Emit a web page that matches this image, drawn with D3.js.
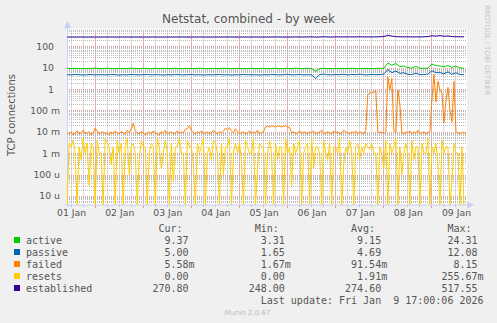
<!DOCTYPE html>
<html><head><meta charset="utf-8">
<script src="https://cdn.jsdelivr.net/npm/d3@7"></script>
<style>
html,body{margin:0;padding:0;background:#f0f0f0;}
svg{display:block;}
text{font-family:"DejaVu Sans",sans-serif;fill:#555;}
.mono{font-family:"DejaVu Sans Mono",monospace;white-space:pre;}
</style></head>
<body>
<svg id="c" width="497" height="323"></svg>
<script>
// ---------- data ----------
const title = "Netstat, combined - by week";
const yLabel = "TCP connections";
const dayLabels = ["01 Jan","02 Jan","03 Jan","04 Jan","05 Jan","06 Jan","07 Jan","08 Jan","09 Jan"];
const yTickValues = [100, 10, 1, 0.1, 0.01, 0.001, 0.0001, 0.00001];
const yTickLabels = ["100","10","1","100 m","10 m","1 m","100 u","10 u"];
const seriesNames = ["active","passive","failed","resets","established"];
const seriesColors = ["#00cc00","#0066b3","#ff8000","#ffcc00","#330099"];
const legendHeaders = ["Cur:","Min:","Avg:","Max:"];
const legendCur = ["9.37","5.00","5.58m","0.00","270.80"];
const legendMin = ["3.31","1.65","1.67m","0.00","248.00"];
const legendAvg = ["9.15","4.69","91.54m","1.91m","274.60"];
const legendMax = ["24.31","12.08","8.15","255.67m","517.55"];
const lastUpdate = "Last update: Fri Jan  9 17:00:06 2026";
const version = "Munin 2.0.67";
const sideText = "RRDTOOL / TOBI OETIKER";

// 2-hourly samples starting Jan 1 10:00
const active = [
9.3,9.1,9.4,9.2,9.0,9.3,9.2,9.5,9.1,9.2,
9.4,9.2,9.0,9.3,9.1,9.2,9.5,9.2,9.1,9.3,
9.2,9.0,9.4,9.2,9.3,9.1,9.2,9.4,9.0,9.2,
9.3,9.1,9.2,9.5,9.2,9.0,9.3,9.2,9.1,9.4,
9.2,9.1,9.3,9.2,9.0,9.2,9.4,9.1,9.2,9.3,
9.1,9.2,9.4,9.0,9.2,9.3,9.1,9.5,9.2,9.0,
9.3,9.1,6.6,9.2,9.4,9.1,9.2,9.0,9.3,9.2,
9.1,9.4,9.2,9.0,9.3,9.2,9.1,9.2,9.4,9.3,
16.5,13.0,15.5,11.2,12.0,10.0,9.6,11.5,9.4,9.3,
9.5,14.8,12.5,12.0,11.0,12.6,10.2,11.8,9.6,9.4];
const passive = [
4.7,4.6,4.8,4.7,4.5,4.7,4.8,4.6,4.7,4.7,
4.6,4.8,4.7,4.5,4.7,4.6,4.8,4.7,4.6,4.7,
4.8,4.6,4.7,4.7,4.5,4.7,4.6,4.8,4.7,4.6,
4.7,4.8,4.6,4.7,4.5,4.7,4.6,4.7,4.8,4.6,
4.7,4.5,4.7,4.6,4.8,4.7,4.6,4.7,4.5,4.7,
4.6,4.8,4.7,4.6,4.7,4.9,4.6,4.7,4.8,4.6,
4.7,4.6,3.1,4.8,5.0,4.7,4.6,4.8,4.7,4.9,
4.6,4.8,4.7,5.0,4.7,4.6,4.9,4.7,4.8,5.0,
8.2,5.8,7.0,5.4,5.8,4.9,4.8,5.6,4.7,4.8,
5.0,7.2,5.8,5.9,5.2,6.4,4.9,5.8,4.8,4.7];
const established = [
270,271,270,272,270,269,271,270,270,272,
270,271,270,270,273,270,269,270,271,270,
270,272,270,269,270,271,270,270,272,270,
270,271,270,273,270,269,270,271,270,270,
272,270,270,271,270,269,270,272,270,270,
271,270,274,271,269,272,270,275,272,270,
273,276,268,272,278,273,271,276,274,272,
277,273,275,279,274,276,272,275,280,286,
330,300,282,278,275,279,274,276,273,278,
285,310,300,318,296,305,284,280,278,276];
// hourly samples (milli units) starting Jan 1 10:00
const failedMilli = [
9,8,10,7,9,11,8,9,12,8, 9,10,7,9,15,11,8,9,10,8,
9,7,10,8,11,9,8,10,9,8, 12,9,14,25,11,9,8,10,9,7,
9,10,8,11,9,8,7,10,9,12, 8,9,10,8,9,11,8,10,9,13,
14,20,12,9,8,10,9,11,8,9, 10,8,9,12,9,8,10,9,11,15,
12,16,11,9,14,10,8,9,10,8, 9,11,8,10,9,12,8,9,10,17,
18,17,19,18,17,19,18,17,18,20, 17,16,9,10,8,9,11,8,10,9,
8,10,9,11,8,9,10,12,8,9, 10,9,8,11,9,10,8,9,12,10,
9,8,10,9,11,8,10,9,8,12, 550,650,700,720,820,10,9,10,8,10,
3800,900,3200,12,9,900,200,9,8,10, 9,11,8,10,9,12,8,9,10,8,
9,10,300,5000,250,2300,900,650,26,300, 1200,100,30,2300,10,9,8,10,9,8];
const resetsMilli = [
0,3,2,4,1,0,2,0.5,5,1, 3,0.03,3,2,0,4,1,1,0,5,
3,2,0.3,2,0,4,1,3,0,2, 5,0.1,2,3,1,0,0.5,4,2,2,
0,1,3,2,0,5,2,0.2,1,4, 1,0,3,0.05,2,2,5,1,1,0,
4,2,2,0.3,0,3,1,2,5,0, 1,2,0.5,4,3,1,0,3,0.1,2,
2,5,0,1,3,1,3,0.4,0,4, 2,1,1,5,0,0.2,3,2,2,0,
1,4,1,0,3,0.5,2,2,0,5, 1,2,0.03,3,1,2,4,0,1,2,
3,0,5,0.2,2,2,1,0,4,1, 0.5,3,0,2,2,1,5,0,0.3,2,
1,4,1,0,2,3,0.5,2,1,3, 2,1.5,3,1,1,0,2,1,0.2,4,
0,3,1,2,5,0,2,0.1,1,3, 1,0,4,0.5,2,2,0,3,1,1,
5,0,2,1,3,0.3,0,4,1,2, 2,0,0.05,3,1,1,0,2,0,0];

// ---------- layout ----------
const svg = d3.select("#c");
const L = 67, R = 467, T = 29.5, B = 204.5;
const tStart = Date.UTC(2026,0,1,10), tEnd = Date.UTC(2026,0,9,17);
const HOUR = 3600e3;
const x = d3.scaleUtc().domain([tStart, tEnd]).range([67.1, 466]);
const y = d3.scaleLog().domain([4e-6, 610]).range([B, T]);

svg.append("rect").attr("width",497).attr("height",323).attr("fill","#f0f0f0");
svg.append("rect").attr("x",L).attr("y",T).attr("width",R-L).attr("height",B-T).attr("fill","#ffffff");

const grid = svg.append("g").attr("shape-rendering","crispEdges");
const minorCol = "#bdbdbd", majorCol = "#e69a9a";
// vertical minor every 6h, major at midnight (solid, light = dotted average)
const sixH = d3.utcHour.every(6).range(new Date(tStart), new Date(tEnd+1));
sixH.forEach(d => {
  const px = Math.floor(x(d)) + 0.5;
  const major = d.getUTCHours() === 0;
  grid.append("line").attr("x1",px).attr("x2",px).attr("y1",30).attr("y2",204)
    .attr("stroke", major ? "#eeaaaa" : "#dadada");
  grid.append("line").attr("x1",px).attr("x2",px).attr("y1",205).attr("y2",major?208:207)
    .attr("stroke", major ? majorCol : minorCol);
});
// horizontal minor + major
for (let e = -6; e <= 2; e++) {
  for (let k = 1; k <= 9; k++) {
    const v = k * Math.pow(10, e);
    const py = Math.round(y(v)) + 0.5;
    if (py < T || py > B) continue;
    grid.append("line").attr("x1",L).attr("x2",R).attr("y1",py).attr("y2",py)
      .attr("stroke", k===1 ? majorCol : minorCol).attr("stroke-dasharray","1,1");
  }
}

// axes lines + arrows
const axisCol = "#c8d0f4";
svg.append("line").attr("x1",L+0.5).attr("x2",L+0.5).attr("y1",25).attr("y2",B+2).attr("stroke",axisCol);
svg.append("line").attr("x1",L-2).attr("x2",470).attr("y1",B+0.5).attr("y2",B+0.5).attr("stroke",axisCol);
svg.append("path").attr("d",`M${L+0.5},21 L${L-3},28 L${L+4},28 Z`).attr("fill",axisCol);
svg.append("path").attr("d",`M474,${B+0.5} L467,${B-3} L467,${B+4} Z`).attr("fill",axisCol);

// y tick labels via axis
const yAxis = d3.axisLeft(y).tickValues(yTickValues).tickSize(0).tickPadding(0)
  .tickFormat((d,i) => yTickLabels[i]);
const yg = svg.append("g").attr("transform","translate(60,0)").call(yAxis);
yg.select(".domain").remove();
yg.selectAll("text").attr("font-size","9.3px").attr("fill","#555")
  .attr("font-family","DejaVu Sans, sans-serif")
  .attr("x", (d,i) => yTickLabels[i].indexOf(" ")>=0 ? 0 : -6);

// x tick labels via axis (centered at noon)
const noonTicks = dayLabels.map((s,i) => new Date(Date.UTC(2026,0,1+i,12)));
const xAxis = d3.axisBottom(x).tickValues(noonTicks).tickSize(0).tickPadding(0)
  .tickFormat((d,i) => dayLabels[i]);
const xg = svg.append("g").attr("transform",`translate(0,${B})`).call(xAxis);
xg.select(".domain").remove();
xg.selectAll("text").attr("font-size","9.3px").attr("fill","#555")
  .attr("font-family","DejaVu Sans, sans-serif").attr("dy",null).attr("y",11.5);

// series
svg.append("clipPath").attr("id","clip").append("rect")
  .attr("x",L).attr("y",T).attr("width",R-L).attr("height",B-T);
const plot = svg.append("g").attr("clip-path","url(#clip)");
const yv = v => v > 0 ? Math.min(B, Math.max(T, y(v))) : B + 1;
function drawSeries(vals, stepH, color, scale) {
  const pts = vals.map((v,i) => [x(tStart + i*stepH*HOUR), yv(v*scale)]);
  plot.append("path").attr("d", d3.line()(pts)).attr("fill","none")
    .attr("stroke",color).attr("stroke-width",1).attr("stroke-linejoin","round");
}
drawSeries(active, 2, seriesColors[0], 1);
drawSeries(passive, 2, seriesColors[1], 1);
drawSeries(failedMilli, 1, seriesColors[2], 0.001);
drawSeries(resetsMilli, 1, seriesColors[3], 0.001);
drawSeries(established, 2, seriesColors[4], 1);

// title & labels
svg.append("text").attr("x",248.5).attr("y",23).attr("text-anchor","middle")
  .attr("font-size","12px").text(title);
svg.append("text").attr("transform","translate(15,115) rotate(-90)").attr("text-anchor","middle")
  .attr("font-size","10px").text(yLabel);
svg.append("text").attr("transform","translate(485,5) rotate(90)").attr("text-anchor","start")
  .attr("font-size","7px").style("fill","#c4c4c4").text(sideText);

// legend
const cw = 6.02, x0 = 26;
const colX = c => x0 + c*cw;
const lg = svg.append("g");
const rowY = i => 240 + i*12;
[26,42,58,74].forEach((c,i) => {
  lg.append("text").attr("class","mono").attr("x",colX(c)).attr("y",231.5)
    .attr("text-anchor","end").attr("font-size","10px").text(legendHeaders[i]);
});
const cols = [legendCur, legendMin, legendAvg, legendMax];
const numEnd = [27,43,59,75];
seriesNames.forEach((n,i) => {
  lg.append("rect").attr("x",14).attr("y",rowY(i)-3).attr("width",6).attr("height",6)
    .attr("fill",seriesColors[i]);
  lg.append("text").attr("class","mono").attr("x",x0).attr("y",rowY(i)+3.5)
    .attr("font-size","10px").text(n);
  cols.forEach((arr,c) => {
    const s = arr[i];
    const unit = /[mu]$/.test(s) ? s.slice(-1) : "";
    const num = unit ? s.slice(0,-1) : s;
    lg.append("text").attr("class","mono").attr("x",colX(numEnd[c])).attr("y",rowY(i)+3.5)
      .attr("text-anchor","end").attr("font-size","10px").text(num);
    if (unit) lg.append("text").attr("class","mono").attr("x",colX(numEnd[c])).attr("y",rowY(i)+3.5)
      .attr("font-size","10px").text(unit);
  });
});
lg.append("text").attr("class","mono").attr("x",colX(76)).attr("y",303.5)
  .attr("text-anchor","end").attr("font-size","10px").text(lastUpdate);
svg.append("text").attr("x",247.5).attr("y",315).attr("text-anchor","middle")
  .attr("font-size","7px").style("fill","#bbb").text(version);
</script>
</body></html>
